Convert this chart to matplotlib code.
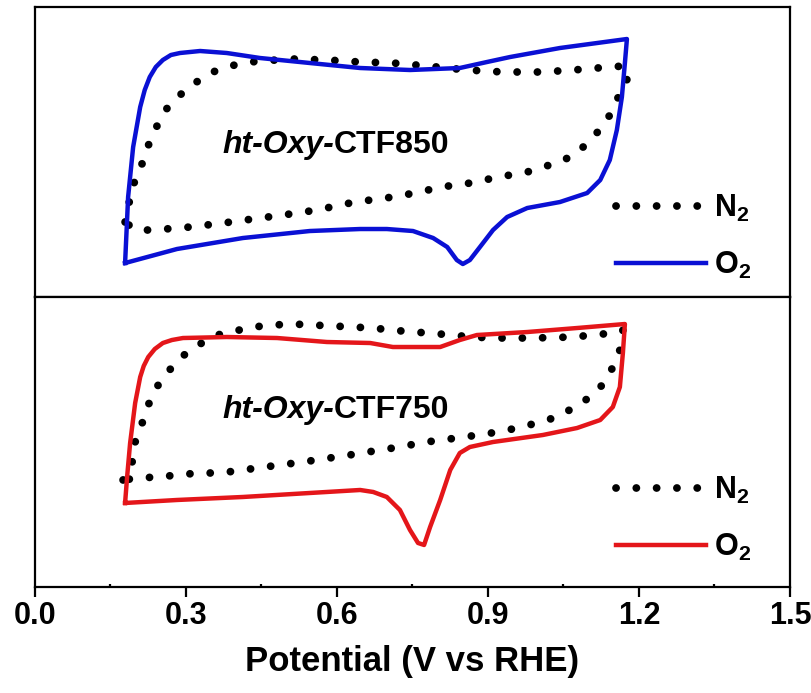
import matplotlib
matplotlib.use("Agg")
import matplotlib.pyplot as plt
from matplotlib.ticker import MultipleLocator, FormatStrFormatter

plt.rcParams['font.family'] = ['Liberation Sans', 'DejaVu Sans']
plt.rcParams['mathtext.fontset'] = 'custom'
plt.rcParams['mathtext.rm'] = 'Liberation Sans:bold'
plt.rcParams['mathtext.bf'] = 'Liberation Sans:bold'

BLUE = '#0a10d4'
RED = '#e4161a'

# ---- ht-Oxy-CTF850 (current in a.u.) ----
v850_o2 = [0.179, 0.185, 0.195, 0.209, 0.218, 0.228, 0.240, 0.254, 0.270, 0.288, 0.328, 0.381,
           0.447, 0.546, 0.646, 0.745, 0.844, 0.898, 0.944, 1.043, 1.176,
           1.172, 1.166, 1.156, 1.142, 1.123, 1.097, 1.043, 0.978, 0.938, 0.910, 0.884,
           0.864, 0.850, 0.838, 0.819, 0.791, 0.751, 0.699, 0.646, 0.546, 0.413, 0.282, 0.179]
i850_o2 = [0.34, 1.00, 1.50, 1.90, 2.07, 2.20, 2.30, 2.37, 2.42, 2.44, 2.46, 2.44,
           2.39, 2.34, 2.29, 2.27, 2.29, 2.35, 2.40, 2.49, 2.58,
           2.34, 2.00, 1.67, 1.37, 1.17, 1.04, 0.95, 0.89, 0.80, 0.67, 0.50,
           0.37, 0.33, 0.37, 0.50, 0.59, 0.66, 0.68, 0.68, 0.66, 0.59, 0.48, 0.34]

v850_n2 = [0.179, 0.183, 0.193, 0.209, 0.219, 0.232, 0.248, 0.264, 0.288, 0.318, 0.348,
           0.381, 0.413, 0.447, 0.513, 0.580, 0.646, 0.711, 0.779, 0.858, 0.930, 1.009,
           1.097, 1.138, 1.172,
           1.176, 1.156, 1.142, 1.127, 1.103, 1.077, 1.043, 1.009, 0.978, 0.944, 0.910,
           0.878, 0.838, 0.805, 0.765, 0.711, 0.666, 0.626, 0.560, 0.493, 0.447, 0.374,
           0.308, 0.234, 0.199, 0.179]
i850_n2 = [0.75, 0.84, 1.10, 1.27, 1.44, 1.60, 1.77, 1.90, 2.02, 2.14, 2.24,
           2.30, 2.34, 2.36, 2.38, 2.37, 2.35, 2.34, 2.31, 2.27, 2.25, 2.25,
           2.28, 2.30, 2.31,
           2.17, 1.97, 1.82, 1.70, 1.57, 1.44, 1.35, 1.30, 1.25, 1.22, 1.19,
           1.15, 1.12, 1.10, 1.05, 1.00, 0.97, 0.94, 0.87, 0.82, 0.79, 0.74,
           0.70, 0.67, 0.67, 0.75]

# ---- ht-Oxy-CTF750 (current in a.u.) ----
v750_o2 = [0.179, 0.183, 0.189, 0.199, 0.209, 0.216, 0.225, 0.238, 0.254, 0.272, 0.294, 0.381,
           0.481, 0.580, 0.666, 0.711, 0.805, 0.844, 0.878, 0.978, 1.077, 1.172,
           1.168, 1.162, 1.148, 1.123, 1.077, 1.009, 0.910, 0.864, 0.844, 0.825, 0.805,
           0.785, 0.773, 0.761, 0.745, 0.725, 0.699, 0.672, 0.646, 0.546, 0.413, 0.282, 0.179]
i750_o2 = [0.84, 1.10, 1.44, 1.84, 2.10, 2.21, 2.30, 2.38, 2.44, 2.47, 2.49, 2.50,
           2.49, 2.45, 2.44, 2.40, 2.40, 2.47, 2.52, 2.55, 2.59, 2.63,
           2.34, 2.00, 1.80, 1.67, 1.59, 1.52, 1.45, 1.40, 1.34, 1.17, 0.87,
           0.60, 0.42, 0.44, 0.57, 0.77, 0.90, 0.95, 0.97, 0.94, 0.90, 0.87, 0.84]

v750_n2 = [0.175, 0.193, 0.199, 0.213, 0.225, 0.242, 0.264, 0.288, 0.324, 0.362, 0.397,
           0.433, 0.473, 0.513, 0.552, 0.592, 0.632, 0.670, 0.709, 0.749, 0.785, 0.825,
           0.870, 0.910, 0.989, 1.069, 1.148, 1.168,
           1.162, 1.148, 1.133, 1.103, 1.069, 1.037, 0.997, 0.958, 0.920, 0.880, 0.840,
           0.805, 0.765, 0.725, 0.685, 0.650, 0.612, 0.572, 0.532, 0.487, 0.441, 0.401,
           0.362, 0.324, 0.284, 0.244, 0.205, 0.175]
i750_n2 = [1.07, 1.25, 1.45, 1.64, 1.82, 2.00, 2.15, 2.29, 2.42, 2.52, 2.56,
           2.60, 2.62, 2.63, 2.62, 2.61, 2.60, 2.59, 2.57, 2.55, 2.54, 2.52,
           2.50, 2.49, 2.49, 2.50, 2.54, 2.57,
           2.37, 2.20, 2.05, 1.90, 1.79, 1.70, 1.64, 1.59, 1.55, 1.52, 1.49,
           1.47, 1.44, 1.40, 1.37, 1.34, 1.31, 1.28, 1.25, 1.22, 1.19, 1.16,
           1.14, 1.14, 1.12, 1.10, 1.09, 1.07]

# name, N2 curve, O2 curve, O2 colour, label y, legend bottom (axes fraction)
panels = [
    ('CTF850', v850_n2, i850_n2, v850_o2, i850_o2, BLUE, 1.44, 0.055),
    ('CTF750', v750_n2, i750_n2, v750_o2, i750_o2, RED, 1.69, 0.083),
]

fig = plt.figure(figsize=(8.12, 6.93), dpi=100)
ax_top = fig.add_axes([0.0431, 0.5714, 0.9298, 0.4185])
ax_bot = fig.add_axes([0.0431, 0.1530, 0.9298, 0.4184], sharex=ax_top)

for ax, (name, vn, inn, vo, io, col, ty, ly) in zip([ax_top, ax_bot], panels):
    ax.plot(vn, inn, color='black', lw=5.6, linestyle=(0, (0.01, 2.6)),
            dash_capstyle='round', label=r'$\mathbf{N_2}$')
    ax.plot(vo, io, color=col, lw=3.2, solid_joinstyle='round', label=r'$\mathbf{O_2}$')
    ax.set_ylim(0, 2.9)
    ax.set_yticks([])
    for sp in ax.spines.values():
        sp.set_linewidth(1.6)
    t1 = ax.text(0.372, ty, 'ht-Oxy-', fontsize=23, fontweight='bold', style='italic')
    ax.annotate(name, xycoords=t1, xy=(1, 0), va='bottom', fontsize=23, fontweight='bold')
    ax.legend(loc='lower left', bbox_to_anchor=(0.7695, ly), frameon=False,
              fontsize=22, handlelength=2.95, handletextpad=0.26, labelspacing=0.85,
              borderaxespad=0, borderpad=0)

ax_top.set_xlim(0.0, 1.5)
ax_top.tick_params(axis='x', which='both', bottom=False, labelbottom=False)
ax_bot.xaxis.set_major_locator(MultipleLocator(0.3))
ax_bot.xaxis.set_minor_locator(MultipleLocator(0.15))
ax_bot.xaxis.set_major_formatter(FormatStrFormatter('%.1f'))
ax_bot.tick_params(axis='x', which='major', direction='out', length=7, width=1.6,
                   labelsize=22, pad=3)
ax_bot.tick_params(axis='x', which='minor', direction='in', length=2.5, width=1.6)
for lab in ax_bot.get_xticklabels():
    lab.set_fontweight('bold')
ax_bot.set_xlabel('Potential (V vs RHE)', fontsize=25, fontweight='bold', labelpad=10)

fig.savefig('out.png', dpi=100)
